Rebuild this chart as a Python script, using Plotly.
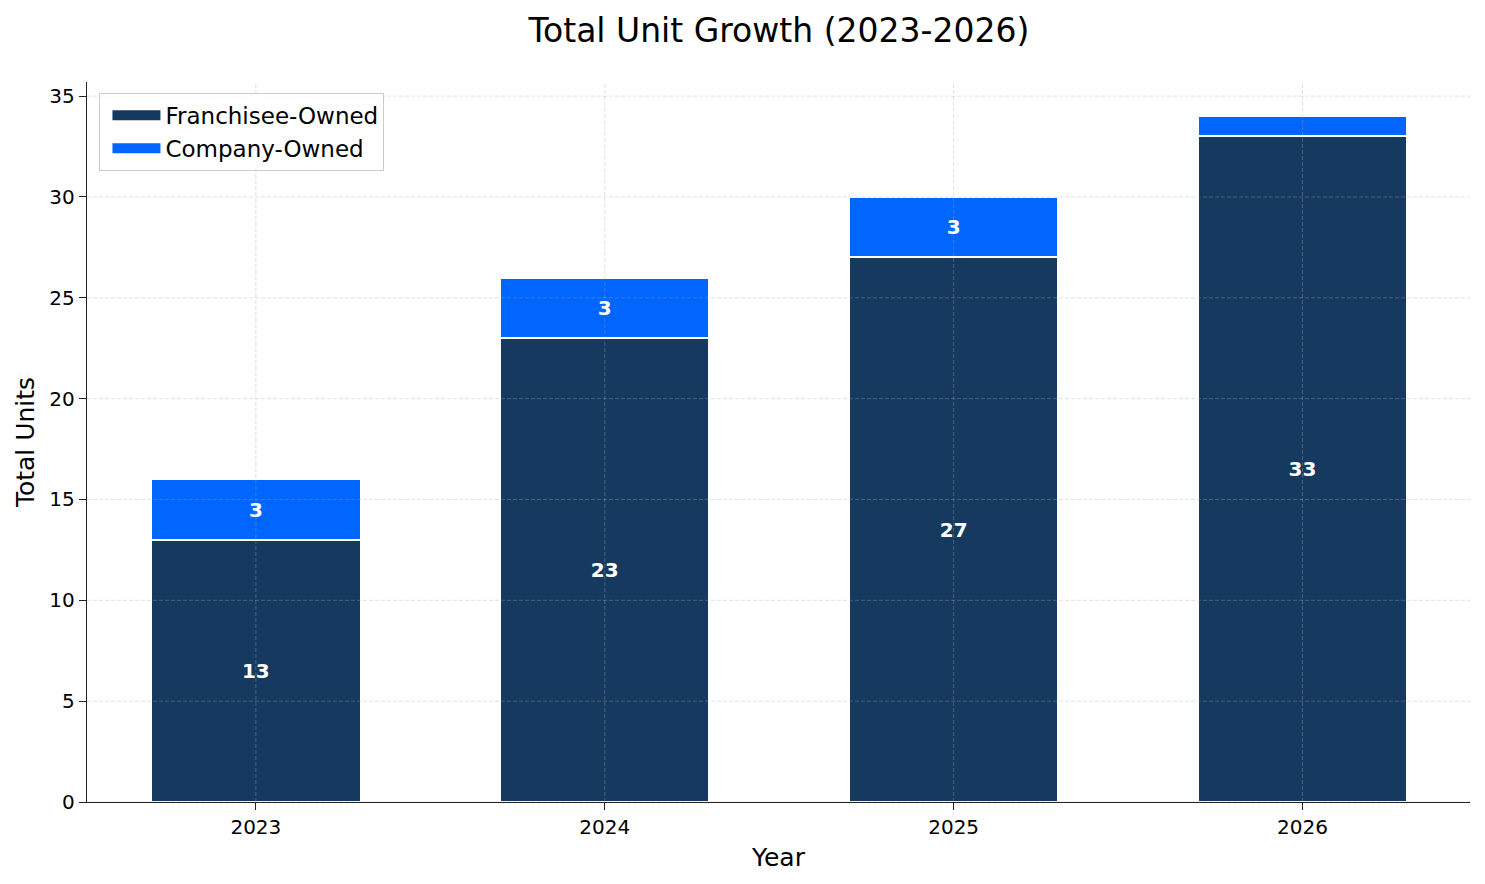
import plotly.graph_objects as go

years = ["2023", "2024", "2025", "2026"]
franchisee = [13, 23, 27, 33]
company = [3, 3, 3, 1]
y_ticks = [0, 5, 10, 15, 20, 25, 30, 35]

DARK = "#163A5F"
BRIGHT = "#0066FF"
GRID = "rgba(170,170,170,0.35)"

x = list(range(len(years)))


def labels(vals):
    return [str(v) if v > 1 else "" for v in vals]


fig = go.Figure()
for name, vals, col in [("Franchisee-Owned", franchisee, DARK), ("Company-Owned", company, BRIGHT)]:
    fig.add_trace(go.Bar(
        x=x, y=vals, name=name, width=0.6, showlegend=False, legendgroup=name,
        marker=dict(color=col, line=dict(color="white", width=2)),
        text=labels(vals), textposition="inside", insidetextanchor="middle",
        textfont=dict(color="white", size=20, family="DejaVu Sans", weight="bold"),
        textangle=0,
    ))
# legend entries (wide rectangular swatches)
for name, col in [("Franchisee-Owned", DARK), ("Company-Owned", BRIGHT)]:
    fig.add_trace(go.Scatter(
        x=[None], y=[None], mode="lines", name=name, legendgroup=name,
        line=dict(color=col, width=13), hoverinfo="skip",
    ))

# dashed grid lines drawn above the bars
shapes = []
for yv in y_ticks:
    shapes.append(dict(type="line", xref="paper", x0=0, x1=1, yref="y", y0=yv, y1=yv,
                       line=dict(color=GRID, width=1, dash="4px,2px"), layer="above"))
for xv in x:
    shapes.append(dict(type="line", xref="x", x0=xv, x1=xv, yref="paper", y0=0, y1=1,
                       line=dict(color=GRID, width=1, dash="4px,2px"), layer="above"))

fig.update_layout(
    barmode="stack",
    width=1485, height=884,
    margin=dict(l=87, r=15, t=82, b=82),
    plot_bgcolor="white", paper_bgcolor="white",
    font=dict(family="DejaVu Sans", color="black", size=18),
    title=dict(text="Total Unit Growth (2023-2026)", x=0.5245, xanchor="center",
               y=0.966, yanchor="middle", font=dict(size=33)),
    legend=dict(x=0.009, y=0.985, xanchor="left", yanchor="top",
                bgcolor="rgba(255,255,255,0.8)", bordercolor="#cccccc", borderwidth=1,
                font=dict(size=23), traceorder="normal", itemwidth=48, indentation=7),
    uniformtext=dict(mode="show", minsize=10),
    shapes=shapes,
)
fig.update_xaxes(
    range=[-0.484, 3.48], tickvals=x, ticktext=years,
    showline=True, linecolor="#222", linewidth=1.4,
    ticks="outside", ticklen=7, tickcolor="#222", tickwidth=1.4,
    showgrid=False, layer="above traces", tickfont=dict(size=20),
    title=dict(text="Year", font=dict(size=25), standoff=10),
    zeroline=False, automargin=False,
)
fig.update_yaxes(
    range=[0, 35.7], tickvals=y_ticks,
    showline=True, linecolor="#222", linewidth=1.4,
    ticks="outside", ticklen=7, tickcolor="#222", tickwidth=1.4,
    showgrid=False, layer="above traces", tickfont=dict(size=20),
    title=dict(text="Total Units", font=dict(size=25), standoff=7),
    zeroline=False, automargin=False,
)

fig.write_html("out.html")
